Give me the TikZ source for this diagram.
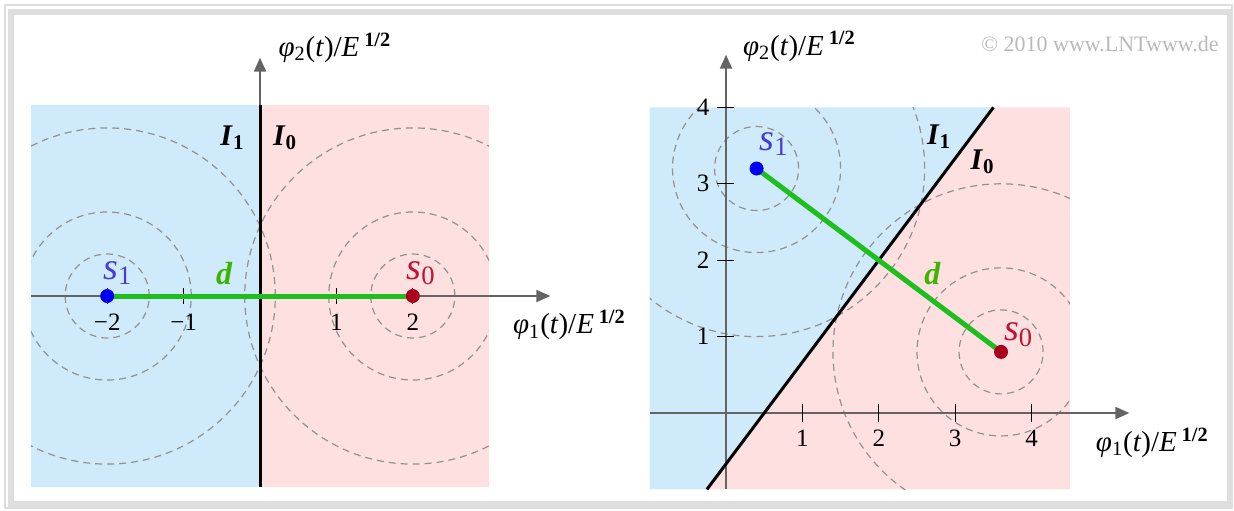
\documentclass[tikz,border=0pt]{standalone}
\usepackage{fontspec}
\setmainfont{Liberation Serif}
\usepackage{tikz}
\usetikzlibrary{arrows.meta, positioning, calc}
\definecolor{LNTBlue}{RGB}{206, 234, 251}
\definecolor{LNTPink}{RGB}{255, 224, 224}
\definecolor{LNTAxis}{RGB}{100, 100, 100}
\definecolor{LNTLevel}{RGB}{145, 145, 145}
\definecolor{LNTGreen}{RGB}{30, 190, 30}
\definecolor{LNTdText}{RGB}{60, 180, 0}
\definecolor{LNTsOne}{RGB}{0, 0, 240}
\definecolor{LNTsOneText}{RGB}{70, 60, 210}
\definecolor{LNTsZero}{RGB}{170, 0, 30}
\definecolor{LNTsZeroText}{RGB}{190, 20, 50}
\definecolor{LNTFrame}{RGB}{222, 222, 222}
\definecolor{LNTCopy}{RGB}{185, 185, 185}

\begin{document}
\begin{tikzpicture}[
  font=\fontsize{11}{13}\selectfont,
  region1/.style={fill=LNTBlue},
  region0/.style={fill=LNTPink},
  level/.style={draw=LNTLevel, line width=0.6pt, dash pattern=on 3.5pt off 2.5pt},
  axis/.style={draw=LNTAxis, line width=1pt, -{Triangle[length=7pt, width=6pt]}},
  tickmark/.style={draw=black, line width=0.6pt},
  ticklab/.style={font=\fontsize{12.5}{14}\selectfont},
  border/.style={draw=black, line width=1.5pt},
  dline/.style={draw=LNTGreen, line width=2.5pt},
  dot1/.style={circle, fill=LNTsOne, minimum size=7pt, inner sep=0pt},
  dot0/.style={circle, fill=LNTsZero, minimum size=7pt, inner sep=0pt},
  slab1/.style={text=LNTsOneText, font=\fontsize{19}{21}\selectfont},
  slab0/.style={text=LNTsZeroText, font=\fontsize{19}{21}\selectfont},
  dlab/.style={text=LNTdText, font=\fontsize{16}{18}\selectfont\bfseries\itshape},
  ilab/.style={font=\fontsize{15}{17}\selectfont\bfseries},
  axlab/.style={anchor=west, font=\fontsize{14.5}{16}\selectfont},
]
\useasboundingbox (0,0) rectangle (617pt,-255pt);
\draw[LNTFrame, line width=1pt] (2.5pt,-2.5pt) rectangle (616pt,-254pt);
\draw[LNTFrame, line width=3pt] (5.5pt,-6pt) rectangle (615pt,-252pt);

\begin{scope}[shift={(130pt,-148pt)}, x=38.2pt, y=38.2pt]
\fill[region1] (-3,-2.5) rectangle (0,2.5);
\fill[region0] (0,-2.5) rectangle (3,2.5);
\coordinate (s1) at (-2,0);
\coordinate (s0) at (2,0);
\begin{scope}
\clip (-3,-2.5) rectangle (3,2.5);
\foreach \r in {0.55,1.1,2.2} {
  \draw[level] (s1) circle (\r);
  \draw[level] (s0) circle (\r);
}
\end{scope}
\draw[axis] (-3,0) -- (3.8,0);
\draw[axis] (0,-2.5) -- (0,3.12);
\foreach \t/\l in {-2/−2,-1/−1,1/1,2/2} {
  \draw[tickmark] (\t,-0.1) -- (\t,0.1);
  \node[ticklab] at (\t,-0.34) {\l};
}
\draw[border] (0,-2.5) -- (0,2.5);
\node[ilab] (i1) at (-0.36,2.07) {\textit{I}\textsubscript{1}};
\node[ilab] (i0) at (0.33,2.07) {\textit{I}\textsubscript{0}};
\draw[dline] (s1) -- (s0);
\node[dot1] (p1) at (s1) {};
\node[dot0] (p0) at (s0) {};
\node[slab1] at (-1.86,0.3) {\textit{s}\textsubscript{1}};
\node[slab0] at (2.11,0.3) {\textit{s}\textsubscript{0}};
\node[dlab] (d) at (-0.47,0.29) {d};
\node[axlab] (ax2) at (0.15,3.25) {\textit{φ}\textsubscript{2}(\textit{t})/\textit{E}\,\textsuperscript{\textbf{1/2}}};
\node[axlab] (ax1) at (3.22,-0.38) {\textit{φ}\textsubscript{1}(\textit{t})/\textit{E}\,\textsuperscript{\textbf{1/2}}};
\end{scope}

\begin{scope}[shift={(363pt,-206.5pt)}, x=38.2pt, y=38.2pt]
\fill[region1] (-1,-1) -- (-0.25,-1) -- (3.5,4) -- (-1,4) -- cycle;
\fill[region0] (-0.25,-1) -- (4.5,-1) -- (4.5,4) -- (3.5,4) -- cycle;
\coordinate (s1) at (0.4,3.2);
\coordinate (s0) at (3.6,0.8);
\begin{scope}
\clip (-1,-1) rectangle (4.5,4);
\foreach \r in {0.55,1.1,2.2} {
  \draw[level] (s1) circle (\r);
  \draw[level] (s0) circle (\r);
}
\end{scope}
\draw[axis] (-1,0) -- (5.28,0);
\draw[axis] (0,-1) -- (0,4.69);
\foreach \t in {1,...,4} {
  \draw[tickmark] (\t,-0.12) -- (\t,0.12);
  \node[ticklab] at (\t,-0.33) {\t};
  \draw[tickmark] (-0.12,\t) -- (0.1,\t);
  \node[ticklab] at (-0.3,\t) {\t};
}
\draw[border] (-0.25,-1) -- (3.5,4);
\node[ilab] (i1) at (2.79,3.62) {\textit{I}\textsubscript{1}};
\node[ilab] (i0) at (3.36,3.29) {\textit{I}\textsubscript{0}};
\draw[dline] (s1) -- (s0);
\node[dot1] (p1) at (s1) {};
\node[dot0] (p0) at (s0) {};
\node[slab1] at (0.63,3.52) {\textit{s}\textsubscript{1}};
\node[slab0] at (3.83,1.03) {\textit{s}\textsubscript{0}};
\node[dlab] (d) at (2.7,1.83) {d};
\node[axlab] (ax2) at (0.13,4.8) {\textit{φ}\textsubscript{2}(\textit{t})/\textit{E}\,\textsuperscript{\textbf{1/2}}};
\node[axlab] (ax1) at (4.75,-0.39) {\textit{φ}\textsubscript{1}(\textit{t})/\textit{E}\,\textsuperscript{\textbf{1/2}}};
\end{scope}

\node[text=LNTCopy, font=\fontsize{11}{13}\selectfont] (copy) at (550pt,-22pt) {© 2010 www.LNTwww.de};
\end{tikzpicture}
\end{document}
